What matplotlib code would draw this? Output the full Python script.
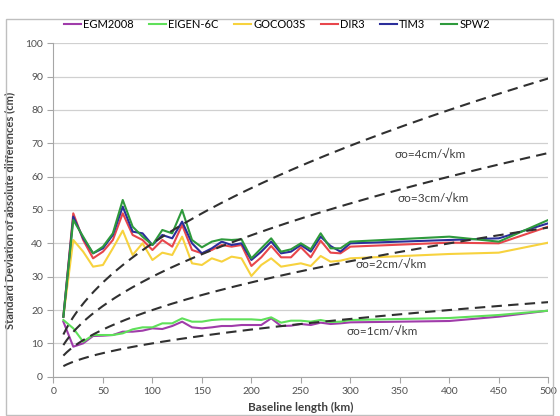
import numpy as np
import matplotlib
matplotlib.use("Agg")
import matplotlib.pyplot as plt
from matplotlib.patches import Rectangle

plt.rcParams['font.family'] = ['Lato', 'DejaVu Sans']

# baseline lengths (km)
baseline = [10, 20, 30, 40, 50, 60, 70, 80, 90, 100,
            110, 120, 130, 140, 150, 160, 170, 180, 190, 200,
            210, 220, 230, 240, 250, 260, 270, 280, 290, 300,
            400, 450, 500]

egm2008 = [16.5, 9.0, 10.0, 12.2, 12.3, 12.5, 13.5, 13.5, 13.8, 14.5,
           14.3, 15.2, 16.5, 14.8, 14.5, 14.8, 15.2, 15.2, 15.5, 15.5,
           15.5, 17.5, 15.2, 15.3, 15.8, 15.5, 16.2, 15.8, 16.0, 16.3,
           16.7, 18.0, 19.8]
eigen6c = [17.0, 14.5, 10.5, 12.5, 12.5, 12.5, 13.0, 14.2, 14.8, 14.8,
           16.0, 16.0, 17.5, 16.5, 16.5, 17.0, 17.2, 17.2, 17.2, 17.2,
           17.0, 17.8, 16.2, 16.8, 16.8, 16.5, 17.0, 16.4, 16.5, 17.0,
           17.6, 18.5, 19.8]
goco03s = [18.0, 41.0, 37.5, 33.0, 33.5, 38.5, 43.8, 36.5, 40.0, 35.0,
           37.2, 36.5, 42.0, 34.0, 33.5, 35.5, 34.5, 36.0, 35.5, 30.2,
           33.5, 35.5, 33.0, 33.5, 34.0, 33.2, 36.2, 34.5, 34.8, 35.5,
           36.8, 37.2, 40.2]
dir3 = [18.0, 49.0, 41.0, 35.5, 37.5, 41.0, 49.0, 42.5, 41.0, 38.0,
        41.0, 39.0, 45.5, 38.0, 37.0, 38.0, 39.5, 39.0, 39.5, 33.2,
        35.8, 39.2, 35.8, 35.8, 38.8, 35.8, 40.8, 37.2, 37.0, 39.0,
        40.2, 40.0, 45.0]
tim3 = [18.0, 48.0, 41.5, 37.0, 38.5, 42.5, 51.0, 43.5, 43.0, 39.5,
        42.5, 41.5, 46.5, 40.0, 37.0, 38.5, 40.5, 39.5, 40.0, 35.0,
        37.5, 40.5, 37.0, 37.5, 39.5, 37.5, 42.0, 39.2, 37.5, 40.0,
        41.0, 41.5, 46.0]
spw2 = [18.0, 47.0, 42.0, 37.0, 39.0, 43.0, 53.0, 45.0, 42.0, 39.5,
        44.0, 43.0, 50.0, 41.0, 38.8, 40.5, 41.2, 41.0, 41.2, 35.5,
        38.5, 41.5, 37.5, 38.2, 40.0, 38.2, 43.0, 38.5, 38.5, 40.5,
        42.0, 40.5, 47.0]

series_names = ['EGM2008', 'EIGEN-6C', 'GOCO03S', 'DIR3', 'TIM3', 'SPW2']
series_colors = ['#a03caa', '#5fe05a', '#f7d23e', '#e8464c', '#2b2e9a', '#2e9a3c']

# theoretical error curves sigma*sqrt(L)
sigmas = [4, 3, 2, 1]
sigma_label_pos = [(345, 66.5), (348, 53.5), (305, 33.5), (296, 13.5)]

fig = plt.figure(figsize=(5.6, 4.16), dpi=100)
ax = fig.add_axes([0.0955, 0.0945, 0.8835, 0.8015])

for name, col, vals in zip(series_names, series_colors,
                           [egm2008, eigen6c, goco03s, dir3, tim3, spw2]):
    ax.plot(baseline, vals, color=col, lw=1.5, label=name, zorder=3)

L = np.linspace(10, 500, 300)
for s, (tx, ty) in zip(sigmas, sigma_label_pos):
    ax.plot(L, s * np.sqrt(L), color='#303030', lw=1.5, ls=(0, (5, 3)), zorder=4)
    ax.text(tx, ty, 'σo=%dcm/√km' % s, fontsize=8.5, color='#404040',
            va='center', ha='left', zorder=5)

ax.set_xlim(0, 500)
ax.set_ylim(0, 100)
ax.set_xticks(np.arange(0, 501, 50))
ax.set_yticks(np.arange(0, 101, 10))
ax.yaxis.grid(True, color='#d0d0d0', lw=0.9)
ax.set_axisbelow(True)
for side in ['top', 'right']:
    ax.spines[side].set_visible(False)
for side in ['left', 'bottom']:
    ax.spines[side].set_color('#a6a6a6')
ax.tick_params(axis='both', colors='#a6a6a6', labelcolor='#505050',
               labelsize=7.5, length=4, direction='out')

ax.set_xlabel('Baseline length (km)', fontsize=8.5, fontweight='bold',
              color='#404040', labelpad=4)
ax.set_ylabel('Standard Deviation of absolute differences (cm)', fontsize=8,
              fontweight='bold', color='#404040', labelpad=7)

fig.legend(loc='center', bbox_to_anchor=(0.495, 0.942), ncol=6, frameon=False,
           fontsize=8, handlelength=1.5, handletextpad=0.2, columnspacing=1.4)

# chart border
fig.patches.append(Rectangle((6 / 560, 1 / 416), 547 / 560, 396 / 416,
                             transform=fig.transFigure, fill=False,
                             edgecolor='#bfbfbf', lw=1))

fig.savefig('out.png', dpi=100)
